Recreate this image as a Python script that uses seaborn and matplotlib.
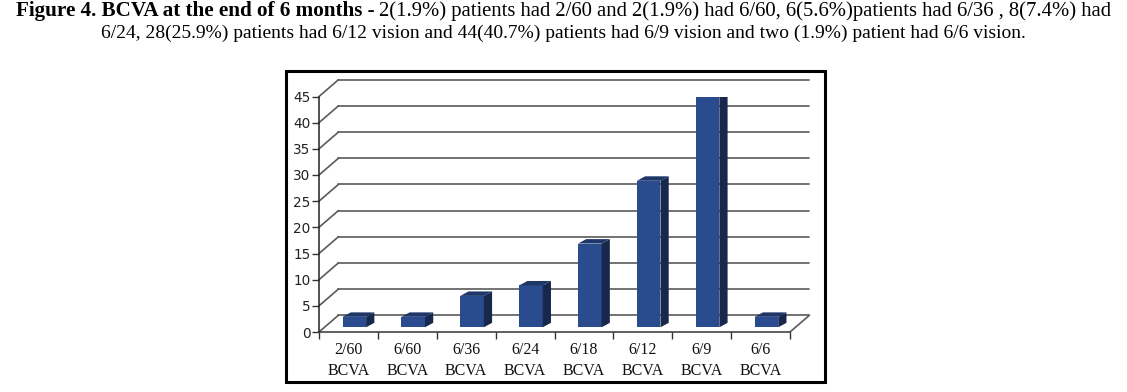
import matplotlib
matplotlib.use("Agg")
import matplotlib.pyplot as plt
import seaborn as sns
from matplotlib.patches import Polygon, Rectangle

# data
categories = ["2/60\nBCVA", "6/60\nBCVA", "6/36\nBCVA", "6/24\nBCVA",
              "6/18\nBCVA", "6/12\nBCVA", "6/9\nBCVA", "6/6\nBCVA"]
patients = [2, 2, 6, 8, 16, 28, 44, 2]
y_ticks = [0, 5, 10, 15, 20, 25, 30, 35, 40, 45]

title_bold = "Figure 4. BCVA at the end of 6 months - "
title_rest = ("2(1.9%) patients had 2/60 and 2(1.9%) had 6/60, 6(5.6%)patients "
              "had 6/36 , 8(7.4%) had")
title_line2 = ("6/24, 28(25.9%) patients had 6/12 vision and 44(40.7%) patients "
               "had 6/9 vision and two (1.9%) patient had 6/6 vision.")

front_col = "#2a4b8e"
side_col = "#18284d"
top_col = "#1f3668"
grid_col = "#5a5a5a"

sns.set_style("white")
plt.rcParams["font.family"] = ["Liberation Serif", "DejaVu Serif"]

W, H = 1127, 392
fig = plt.figure(figsize=(W / 100, H / 100), dpi=100)
ax = fig.add_axes([319 / W, (H - 332) / H, (790 - 319) / W, (332 - 96.5) / H])

n = len(categories)
wall_dx, wall_dy = 0.33, 3.2     # depth of the back wall in data units
front_dx, front_dy = 0.10, 0.9   # where bar fronts sit in the depth
bar_dx, bar_dy = 0.14, 0.85      # depth of each bar

sns.barplot(x=categories, y=patients, color=front_col, width=0.4,
            saturation=1, ax=ax, zorder=4)

# back wall grid lines and slants
for v in y_ticks:
    ax.plot([-0.5 + wall_dx, n - 0.5 + wall_dx], [v + wall_dy, v + wall_dy],
            color=grid_col, lw=1.2, clip_on=False, zorder=1)
    ax.plot([-0.5, -0.5 + wall_dx], [v, v + wall_dy],
            color=grid_col, lw=1.2, clip_on=False, zorder=1)
# floor right edge
ax.plot([n - 0.5, n - 0.5 + wall_dx], [0, wall_dy],
        color=grid_col, lw=1.2, clip_on=False, zorder=1)

# shift bar fronts into the depth and add side/top faces
for p in ax.patches:
    x0 = p.get_x() + front_dx
    w = p.get_width()
    h = p.get_height()
    p.set_x(x0)
    p.set_y(front_dy)
    p.set_edgecolor("none")
    side = Polygon([(x0 + w, front_dy), (x0 + w + bar_dx, front_dy + bar_dy),
                    (x0 + w + bar_dx, front_dy + h + bar_dy), (x0 + w, front_dy + h)],
                   closed=True, facecolor=side_col, edgecolor="none", zorder=4)
    top = Polygon([(x0, front_dy + h), (x0 + w, front_dy + h),
                   (x0 + w + bar_dx, front_dy + h + bar_dy), (x0 + bar_dx, front_dy + h + bar_dy)],
                  closed=True, facecolor=top_col, edgecolor="none", zorder=4)
    ax.add_patch(side)
    ax.add_patch(top)

ax.set_xlim(-0.5, n - 0.5)
ax.set_ylim(0, 45)
ax.set_yticks(y_ticks)
ax.set_yticklabels([str(v) for v in y_ticks], family="DejaVu Sans", fontsize=9.8,
                   color="#222222")
ax.set_xticks(range(n))
ax.set_xticklabels(categories, fontsize=11.5, linespacing=1.4, color="#111111")
ax.set_xticks([i - 0.5 for i in range(n + 1)], minor=True)
ax.tick_params(axis="x", which="major", length=0, pad=7)
ax.tick_params(axis="x", which="minor", length=5, width=1, color="#333333",
               direction="out", bottom=True)
ax.tick_params(axis="y", length=5, width=1, color="#333333", direction="out",
               left=True, pad=1)
ax.set_xlabel("")
ax.set_ylabel("")
for s in ["top", "right"]:
    ax.spines[s].set_visible(False)
ax.spines["left"].set_color("#222222")
ax.spines["bottom"].set_color("#333333")
ax.spines["left"].set_linewidth(1.1)
ax.spines["bottom"].set_linewidth(1.1)
ax.patch.set_alpha(0)

# chart frame
fig.patches.append(Rectangle((285.5 / W, (H - 382) / H), (825 - 285.5) / W, (382 - 71) / H,
                             transform=fig.transFigure, fill=False,
                             edgecolor="black", lw=2.2))

# caption: bold lead-in followed by regular text, centered
t1 = fig.text(0, 1 - 11 / H, title_bold, fontsize=15.2, fontweight="bold",
              va="center", color="black")
t2 = fig.text(0, 1 - 11 / H, title_rest, fontsize=14.9, va="center", color="black")
fig.text(0.5, 1 - 33 / H, title_line2, fontsize=14, va="center", ha="center",
         color="black")
fig.canvas.draw()
r = fig.canvas.get_renderer()
w1 = t1.get_window_extent(r).width
w2 = t2.get_window_extent(r).width
start = (W - w1 - w2) / 2
t1.set_x(start / W)
t2.set_x((start + w1) / W)

fig.savefig("out.png", dpi=100)
